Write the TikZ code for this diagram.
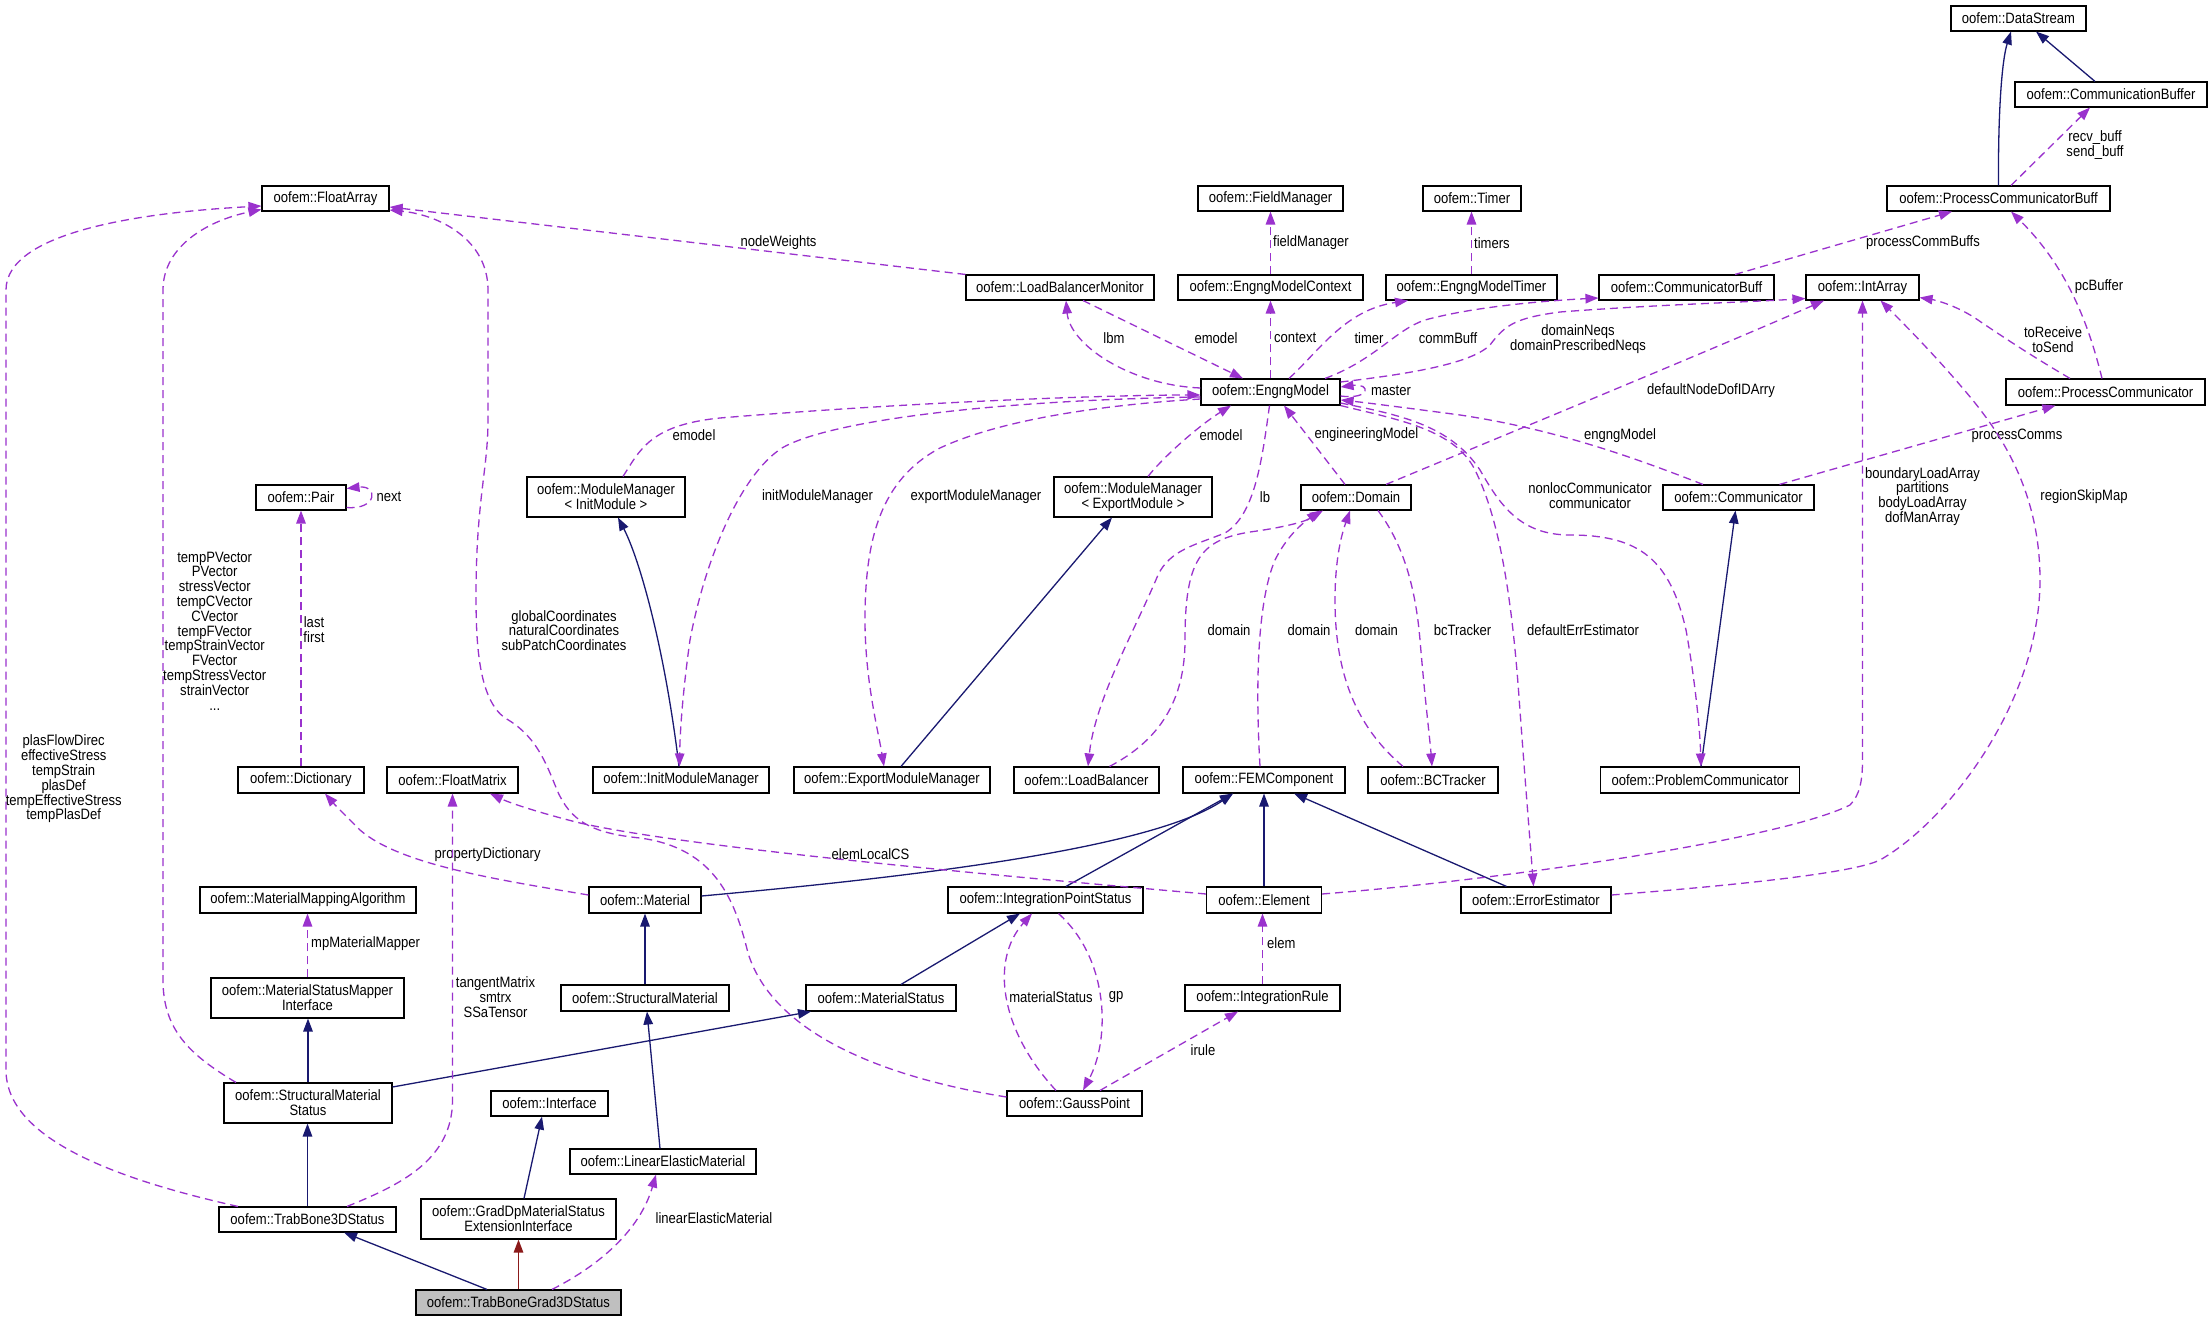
\documentclass[tikz,border=0pt]{standalone}
\usepackage{fontspec}
\setmainfont{Liberation Sans}[FakeStretch=0.87]
\usetikzlibrary{arrows.meta}
\definecolor{depc}{HTML}{9A32CD}
\definecolor{inhc}{HTML}{191970}
\definecolor{privc}{HTML}{8B1A1A}
\definecolor{tbgfill}{HTML}{BFBFBF}
\newcommand{\dfont}{\fontsize{15}{14.8}\selectfont}
\begin{document}
\begin{tikzpicture}[x=1pt,y=-1pt,
 box/.style={draw=black, line width=1.1pt, fill=white, inner sep=0pt, align=center, font=\dfont, minimum height=25pt},
 lbl/.style={font=\dfont, align=center, inner sep=0pt},
 depe/.style={draw=depc, line width=1.3pt, dash pattern=on 8pt off 5pt, -{Triangle[length=13pt,width=9.5pt]}},
 inhe/.style={draw=inhc, line width=1.3pt, -{Triangle[length=13pt,width=9.5pt]}},
 prive/.style={draw=privc, line width=1.3pt, -{Triangle[length=13pt,width=9.5pt]}}]
\useasboundingbox[fill=white] (0,0) rectangle (2212,1321);

% ---------- nodes ----------
\node[box, minimum width=135pt] (DataStream) at (2018.5,18.5) {oofem::DataStream};
\node[box, minimum width=192pt] (CommunicationBuffer) at (2111,94.5) {oofem::CommunicationBuffer};
\node[box, minimum width=223pt] (PCB) at (1998.5,198.5) {oofem::ProcessCommunicatorBuff};
\node[box, minimum width=127pt] (FloatArray) at (325.5,198.5) {oofem::FloatArray};
\node[box, minimum width=145pt] (FieldManager) at (1270.5,198.5) {oofem::FieldManager};
\node[box, minimum width=98pt] (Timer) at (1472,198.5) {oofem::Timer};
\node[box, minimum width=188pt] (LBM) at (1060,287.5) {oofem::LoadBalancerMonitor};
\node[box, minimum width=185pt] (EMC) at (1270.5,287.5) {oofem::EngngModelContext};
\node[box, minimum width=171pt] (EMT) at (1471.5,287.5) {oofem::EngngModelTimer};
\node[box, minimum width=175pt] (CommBuff) at (1686.5,287.5) {oofem::CommunicatorBuff};
\node[box, minimum width=113pt] (IntArray) at (1862.5,287.5) {oofem::IntArray};
\node[box, minimum width=139pt, minimum height=26pt] (EM) at (1270.5,392) {oofem::EngngModel};
\node[box, minimum width=199pt, minimum height=26pt] (PC) at (2105.5,392) {oofem::ProcessCommunicator};
\node[box, minimum width=90pt] (Pair) at (301,497.5) {oofem::Pair};
\node[box, minimum width=158pt, minimum height=40pt] (MMI) at (606,497) {oofem::ModuleManager\\< InitModule >};
\node[box, minimum width=158pt, minimum height=40pt] (MME) at (1133,497) {oofem::ModuleManager\\< ExportModule >};
\node[box, minimum width=110pt] (Domain) at (1356,497.5) {oofem::Domain};
\node[box, minimum width=151pt] (Comm) at (1738.5,497.5) {oofem::Communicator};
\node[box, minimum width=126pt, minimum height=26pt] (Dictionary) at (301,780) {oofem::Dictionary};
\node[box, minimum width=131pt, minimum height=26pt] (FloatMatrix) at (452.5,780) {oofem::FloatMatrix};
\node[box, minimum width=176pt, minimum height=26pt] (IMM) at (681,780) {oofem::InitModuleManager};
\node[box, minimum width=196pt, minimum height=26pt] (EMM) at (892,780) {oofem::ExportModuleManager};
\node[box, minimum width=145pt, minimum height=26pt] (LB) at (1086.5,780) {oofem::LoadBalancer};
\node[box, minimum width=162pt, minimum height=26pt] (FEMC) at (1264,780) {oofem::FEMComponent};
\node[box, minimum width=130pt, minimum height=26pt] (BCT) at (1433,780) {oofem::BCTracker};
\node[box, minimum width=199pt, minimum height=26pt] (ProbComm) at (1700,780) {oofem::ProblemCommunicator};
\node[box, minimum width=216pt, minimum height=26pt] (MMA) at (308,900) {oofem::MaterialMappingAlgorithm};
\node[box, minimum width=112pt, minimum height=26pt] (Material) at (645,900) {oofem::Material};
\node[box, minimum width=195pt, minimum height=26pt] (IPS) at (1045.5,900) {oofem::IntegrationPointStatus};
\node[box, minimum width=115pt, minimum height=26pt] (Element) at (1264,900) {oofem::Element};
\node[box, minimum width=150pt, minimum height=26pt] (EE) at (1536,900) {oofem::ErrorEstimator};
\node[box, minimum width=193pt, minimum height=40pt] (MSMI) at (307.5,998) {oofem::MaterialStatusMapper\\Interface};
\node[box, minimum width=168pt, minimum height=26pt] (SM) at (645,998) {oofem::StructuralMaterial};
\node[box, minimum width=150pt, minimum height=26pt] (MS) at (881,998) {oofem::MaterialStatus};
\node[box, minimum width=155pt, minimum height=26pt] (IR) at (1262.5,998) {oofem::IntegrationRule};
\node[box, minimum width=168pt, minimum height=40pt] (SMS) at (308,1103) {oofem::StructuralMaterial\\Status};
\node[box, minimum width=117pt] (Interface) at (549.5,1103.5) {oofem::Interface};
\node[box, minimum width=135pt] (GP) at (1074.5,1103.5) {oofem::GaussPoint};
\node[box, minimum width=186pt] (LEM) at (663,1161.5) {oofem::LinearElasticMaterial};
\node[box, minimum width=177pt] (TB3) at (307.5,1219.5) {oofem::TrabBone3DStatus};
\node[box, minimum width=195pt, minimum height=40pt] (GradDp) at (518.5,1219) {oofem::GradDpMaterialStatus\\ExtensionInterface};
\node[box, minimum width=205pt, fill=tbgfill] (TBG) at (518.5,1302.5) {oofem::TrabBoneGrad3DStatus};

% ---------- inheritance ----------
\draw[inhe] (PCB.north) .. controls (1998,110) and (2002,60) .. ([xshift=-7.5pt]DataStream.south);
\draw[inhe] ([xshift=-16pt]CommunicationBuffer.north) -- ([xshift=17.5pt]DataStream.south);
\draw[inhe] ([xshift=-2pt]IMM.north) .. controls (665,650) and (640,560) .. ([xshift=12pt]MMI.south);
\draw[inhe] ([xshift=9pt]EMM.north) -- ([xshift=-21pt]MME.south);
\draw[inhe] ([xshift=1pt]ProbComm.north) -- ([xshift=-3pt]Comm.south);
\draw[inhe] ([yshift=4pt]Material.east) .. controls (900,878) and (1150,850) .. ([xshift=-31pt]FEMC.south);
\draw[inhe] ([xshift=20.5pt]IPS.north) -- ([xshift=-31pt]FEMC.south);
\draw[inhe] (Element.north) -- (FEMC.south);
\draw[inhe] ([xshift=-29.5pt]EE.north) -- ([xshift=30pt]FEMC.south);
\draw[inhe] (SM.north) -- (Material.south);
\draw[inhe] ([xshift=20pt]MS.north) -- ([xshift=-25.5pt]IPS.south);
\draw[inhe] (SMS.north) -- (SMS.north |- MSMI.south);
\draw[inhe] ([yshift=16pt]SMS.east) -- ([xshift=-70pt]MS.south);
\draw[inhe] ([xshift=-3pt]LEM.north) -- ([xshift=2pt]SM.south);
\draw[inhe] (TB3.north) -- (TB3.north |- SMS.south);
\draw[inhe] ([xshift=5.5pt]GradDp.north) -- ([xshift=-7.5pt]Interface.south);
\draw[inhe] ([xshift=-31.5pt]TBG.north) -- ([xshift=36.5pt]TB3.south);
\draw[prive] (TBG.north) -- (GradDp.south);

% ---------- usage ----------
\draw[depe] ([xshift=-69.5pt]TB3.north) .. controls (120,1180) and (6,1140) .. (6,1070) -- (6,290) .. controls (6,230) and (150,212) .. ([yshift=-7.5pt]FloatArray.west);
\node[lbl] (lTB3FA) at (63.7,779) {plasFlowDirec\\effectiveStress\\tempStrain\\plasDef\\tempEffectiveStress\\tempPlasDef};

\draw[depe] ([xshift=-72pt]SMS.north) .. controls (190,1055) and (163,1030) .. (163,980) -- (163,290) .. controls (163,245) and (210,220) .. ([yshift=-11pt]FloatArray.west);
\node[lbl] (lSMSFA) at (214.7,631) {tempPVector\\PVector\\stressVector\\tempCVector\\CVector\\tempFVector\\tempStrainVector\\FVector\\tempStressVector\\strainVector\\...};

\draw[depe] ([yshift=6.5pt]GP.west) .. controls (900,1080) and (775,1040) .. (748,953) .. controls (735,900) and (715,848) .. (640,838) .. controls (590,833) and (570,820) .. (557,790) .. controls (545,760) and (535,735) .. (505,718) .. controls (480,700) and (476,650) .. (476,597) .. controls (476,500) and (488,470) .. (488,420) -- (488,290) .. controls (488,240) and (440,215) .. ([yshift=-11.5pt]FloatArray.east);
\node[lbl] (lGPFA) at (564,630.5) {globalCoordinates\\naturalCoordinates\\subPatchCoordinates};

\draw[depe] (LBM.north west) -- ([yshift=-8.5pt]FloatArray.east);
\node[lbl] (lnw) at (778.5,243) {nodeWeights};

\draw[depe] (EMC.north) -- (FieldManager.south);
\node[lbl, anchor=west] (lfm) at (1273,243) {fieldManager};
\draw[depe] (EMT.north) -- (EMT.north |- Timer.south);
\node[lbl, anchor=west] (ltimers) at (1474,243) {timers};
\draw[depe] ([xshift=48.5pt]CommBuff.north) -- ([xshift=-46.5pt]PCB.south);
\node[lbl] (lpcb) at (1923,243) {processCommBuffs};
\draw[depe] ([xshift=12.5pt]PCB.north) -- ([xshift=-21pt]CommunicationBuffer.south);
\node[lbl] (lrecv) at (2095,145) {recv\_buff\\send\_buff};

\draw[depe] ([yshift=4pt]EM.west) .. controls (1130,385) and (1070,345) .. ([xshift=6pt]LBM.south);
\node[lbl] (llbm) at (1114,338) {lbm};
\draw[depe] ([xshift=23pt]LBM.south) -- ([xshift=-27.5pt]EM.north);
\node[lbl] (lemodel1) at (1216,338) {emodel};
\draw[depe] (EM.north) -- (EMC.south);
\node[lbl, anchor=west] (lcontext) at (1274,338) {context};
\draw[depe] ([xshift=18.5pt]EM.north) .. controls (1320,350) and (1345,310) .. ([xshift=-63.5pt]EMT.south);
\node[lbl] (ltimer) at (1369,338) {timer};
\draw[depe] ([xshift=54.5pt]EM.north) .. controls (1375,360) and (1395,330) .. (1425,320) .. controls (1480,305) and (1560,300) .. ([yshift=-10.5pt]CommBuff.west);
\node[lbl] (lcommbuff) at (1448,338) {commBuff};
\draw[depe] ([yshift=10pt]EM.east) .. controls (1400,375) and (1470,365) .. (1490,345) .. controls (1505,325) and (1515,318) .. (1560,312) .. controls (1650,305) and (1750,302) .. ([yshift=-11pt]IntArray.west);
\node[lbl] (lneqs) at (1578,339.5) {domainNeqs\\domainPrescribedNeqs};
\draw[depe] ([yshift=-4pt]EM.east) .. controls (1371,400) and (1371,383) .. ([yshift=5pt]EM.east);
\node[lbl] (lmaster) at (1391,391) {master};

\draw[depe] ([xshift=17pt]MMI.north) .. controls (640,450) and (650,425) .. (720,418) .. controls (900,403) and (1100,395) .. ([yshift=-3pt]EM.west);
\node[lbl] (lemodel2) at (694,435) {emodel};
\draw[depe] ([yshift=-5pt]EM.west) .. controls (1000,400) and (830,420) .. (782,448) .. controls (740,475) and (705,560) .. (690,640) .. controls (683,690) and (680,730) .. ([xshift=-1.5pt]IMM.north);
\node[lbl] (limm) at (817.5,497) {initModuleManager};
\draw[depe] ([yshift=-7pt]EM.west) .. controls (1100,405) and (1000,420) .. (940,448) .. controls (880,480) and (865,540) .. (865,620) .. controls (865,680) and (878,730) .. ([xshift=-8pt]EMM.north);
\node[lbl] (lemm) at (976,497) {exportModuleManager};
\draw[depe] ([xshift=15pt]MME.north) .. controls (1165,455) and (1200,425) .. ([xshift=-39.5pt]EM.south);
\node[lbl] (lemodel3) at (1221,435) {emodel};
\draw[depe] ([xshift=-1pt]EM.south) .. controls (1262,460) and (1255,515) .. (1225,533) .. controls (1195,545) and (1170,550) .. (1158,575) .. controls (1135,630) and (1095,700) .. ([xshift=1.5pt]LB.north);
\node[lbl] (llb) at (1265,497) {lb};

\draw[depe] ([xshift=23pt]LB.north) .. controls (1160,740) and (1185,700) .. (1185,640) .. controls (1185,560) and (1200,540) .. (1250,532) .. controls (1280,528) and (1305,522) .. ([xshift=-36pt]Domain.south);
\node[lbl] (ldom1) at (1229,630) {domain};
\draw[depe] ([xshift=-4pt]FEMC.north) .. controls (1255,680) and (1258,600) .. (1275,560) .. controls (1290,530) and (1310,518) .. ([xshift=-33pt]Domain.south);
\node[lbl] (ldom2) at (1309,630) {domain};
\draw[depe] ([xshift=-30pt]BCT.north) .. controls (1360,730) and (1335,680) .. (1335,600) .. controls (1335,550) and (1345,525) .. ([xshift=-6pt]Domain.south);
\node[lbl] (ldom3) at (1376.5,630) {domain};
\draw[depe] ([xshift=22pt]Domain.south) .. controls (1400,540) and (1415,580) .. (1420,640) .. controls (1425,700) and (1430,740) .. ([xshift=-1pt]BCT.north);
\node[lbl] (lbct) at (1462.5,630) {bcTracker};
\draw[depe] ([xshift=-11pt]Domain.north) -- ([xshift=13.5pt]EM.south);
\node[lbl] (lengm) at (1366.5,435) {engineeringModel};
\draw[depe] ([xshift=30pt]Domain.north) .. controls (1420,470) and (1700,355) .. ([xshift=-38.5pt]IntArray.south);
\node[lbl] (ldnd) at (1711,391) {defaultNodeDofIDArry};

\draw[depe] ([xshift=-35.5pt]Comm.north) .. controls (1640,460) and (1560,430) .. (1460,415) .. controls (1400,407) and (1360,402) .. ([yshift=-8pt]EM.east);
\node[lbl] (lengngm) at (1620,436) {engngModel};
\draw[depe] ([xshift=41pt]Comm.north) -- ([xshift=-50pt]PC.south);
\node[lbl] (lpcomms) at (2017,436) {processComms};
\draw[depe] ([xshift=-35.5pt]PC.north) .. controls (2030,355) and (2000,335) .. (1975,318) .. controls (1955,305) and (1935,300) .. ([yshift=3pt]IntArray.south east);
\node[lbl] (ltorec) at (2053,339.5) {toReceive\\toSend};
\draw[depe] ([xshift=-3.5pt]PC.north) .. controls (2090,330) and (2070,270) .. ([xshift=12.5pt]PCB.south);
\node[lbl] (lpcbuf) at (2099,287) {pcBuffer};

\draw[depe] ([yshift=-11pt]EM.east) .. controls (1400,415) and (1450,425) .. (1480,470) .. controls (1500,505) and (1520,535) .. (1570,535) .. controls (1640,535) and (1670,560) .. (1686,630) .. controls (1695,680) and (1700,730) .. ([xshift=1pt]ProbComm.north);
\node[lbl] (lnonloc) at (1590,496) {nonlocCommunicator\\communicator};
\draw[depe] (EM.south east) .. controls (1400,420) and (1455,430) .. (1475,470) .. controls (1500,520) and (1512,600) .. (1519,697) .. controls (1525,780) and (1530,840) .. ([xshift=-2.5pt]EE.north);
\node[lbl] (lderr) at (1583,630) {defaultErrEstimator};

\draw[depe] ([yshift=6pt]Element.east) .. controls (1500,880) and (1780,840) .. (1850,805) .. controls (1860,795) and (1862.5,780) .. (1862.5,760) -- (IntArray.south);
\node[lbl] (lbla) at (1922.5,496.5) {boundaryLoadArray\\partitions\\bodyLoadArray\\dofManArray};
\draw[depe] ([yshift=5pt]EE.east) .. controls (1700,888) and (1850,875) .. (1880,860) .. controls (1950,820) and (2040,700) .. (2040,580) .. controls (2040,480) and (1990,420) .. (1960,385) .. controls (1930,350) and (1900,320) .. ([xshift=18pt]IntArray.south);
\node[lbl] (lrsm) at (2084,497) {regionSkipMap};

\draw[depe] ([yshift=-10pt]Pair.east) .. controls (378,510) and (378,485) .. ([yshift=9pt]Pair.east);
\node[lbl] (lnext) at (389,497) {next};
\draw[depe] (Dictionary.north) -- (Pair.south);
\node[lbl] (llast) at (314,630) {last\\first};
\draw[depe] ([yshift=5pt]Material.west) .. controls (500,880) and (400,865) .. (360,830) .. controls (345,815) and (335,805) .. ([xshift=24pt]Dictionary.south);
\node[lbl] (lprop) at (487.6,855) {propertyDictionary};
\draw[depe] ([yshift=6pt]Element.west) .. controls (1050,880) and (700,850) .. (580,823) .. controls (540,813) and (510,803) .. ([xshift=37.5pt]FloatMatrix.south);
\node[lbl] (lelcs) at (870.5,854) {elemLocalCS};
\draw[depe] ([xshift=39.5pt]TB3.north) .. controls (400,1185) and (452.5,1160) .. (452.5,1100) -- (FloatMatrix.south);
\node[lbl] (ltang) at (495.5,997) {tangentMatrix\\smtrx\\SSaTensor};
\draw[depe] (MSMI.north) -- (MSMI.north |- MMA.south);
\node[lbl, anchor=west] (lmpm) at (311,943.3) {mpMaterialMapper};
\draw[depe] ([xshift=33.5pt]TBG.north) .. controls (600,1265) and (640,1230) .. ([xshift=-7pt]LEM.south);
\node[lbl] (llem) at (714,1218) {linearElasticMaterial};

\draw[depe] ([xshift=-18.5pt]GP.north) .. controls (1000,1030) and (990,960) .. ([xshift=-13.5pt]IPS.south);
\node[lbl] (lmatst) at (1051,996.7) {materialStatus};
\draw[depe] ([xshift=13pt]IPS.south) .. controls (1110,960) and (1110,1040) .. ([xshift=8.5pt]GP.north);
\node[lbl] (lgp) at (1116,997) {gp};
\draw[depe] (IR.north) -- (IR.north |- Element.south);
\node[lbl, anchor=west] (lelem) at (1267,943) {elem};
\draw[depe] ([xshift=25.5pt]GP.north) -- ([xshift=-24.5pt]IR.south);
\node[lbl] (lirule) at (1203,1050) {irule};
\end{tikzpicture}
\end{document}
